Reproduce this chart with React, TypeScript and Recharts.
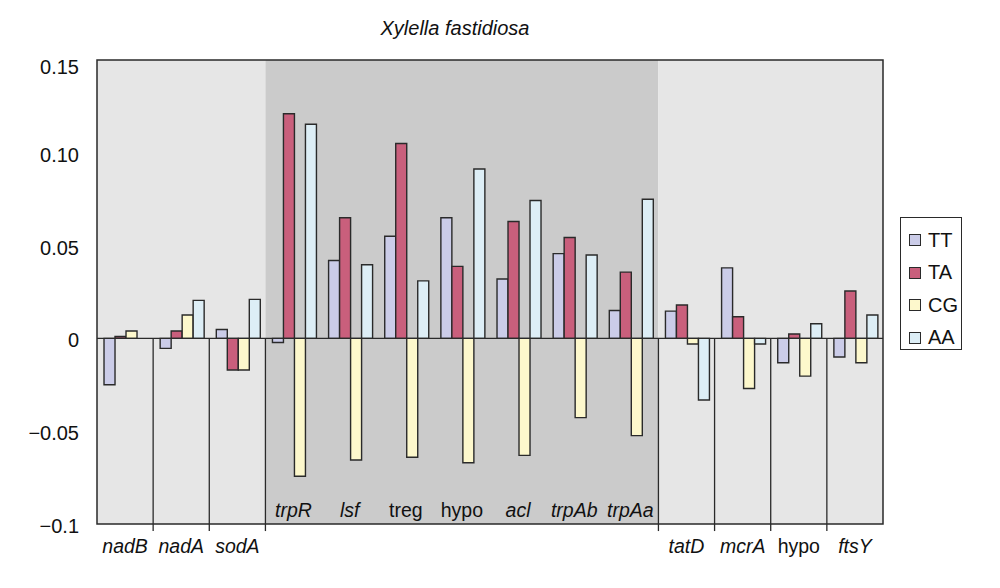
import {
  BarChart,
  Bar,
  XAxis,
  YAxis,
  ReferenceArea,
  ReferenceLine,
} from "recharts";

// gene ids (unique) and printed labels
const geneIds = ["nadB", "nadA", "sodA", "trpR", "lsf", "treg", "hypo1", "acl", "trpAb", "trpAa", "tatD", "mcrA", "hypo2", "ftsY"];
const geneLabels = ["nadB", "nadA", "sodA", "trpR", "lsf", "treg", "hypo", "acl", "trpAb", "trpAa", "tatD", "mcrA", "hypo", "ftsY"];
const geneItalic = [true, true, true, true, true, false, false, true, true, true, true, true, false, true];

const tt = [-0.025, -0.0054, 0.0048, -0.0022, 0.042, 0.055, 0.065, 0.032, 0.0457, 0.015, 0.0147, 0.038, -0.0131, -0.01];
const ta = [0.001, 0.004, -0.017, 0.121, 0.065, 0.105, 0.0388, 0.063, 0.0544, 0.0357, 0.018, 0.0117, 0.0024, 0.0255];
const cg = [0.004, 0.0126, -0.017, -0.0743, -0.0655, -0.064, -0.067, -0.063, -0.0427, -0.0524, -0.003, -0.027, -0.0203, -0.0131];
const aa = [0, 0.0205, 0.021, 0.1154, 0.0397, 0.031, 0.0913, 0.0743, 0.0449, 0.075, -0.0332, -0.003, 0.0079, 0.0126];

const yTicks = [-0.1, -0.05, 0, 0.05, 0.1, 0.15];
const yTickLabels = ["\u22120.1", "\u22120.05", "0", "0.05", "0.10", "0.15"];

// shaded blocks: first and last gene of each
const leftBlock = ["nadB", "sodA"];
const midBlock = ["trpR", "trpAa"];
const rightBlock = ["tatD", "ftsY"];
// genes whose left edge gets a divider below zero
const dividers = ["nadA", "sodA", "trpR", "tatD", "mcrA", "hypo2", "ftsY"];

const series = [
  { key: "TT", values: tt, color: "#cbcce8" },
  { key: "TA", values: ta, color: "#c95f7c" },
  { key: "CG", values: cg, color: "#fdf8cc" },
  { key: "AA", values: aa, color: "#ddeef6" },
];

const data = geneIds.map((id, i) => ({
  id,
  TT: tt[i],
  TA: ta[i],
  CG: cg[i],
  AA: aa[i],
}));

const font = '"Liberation Sans", Arial, sans-serif';
const lineColor = "#2a2a2a";

const GeneTick = (props: any) => {
  const { x, y, payload } = props;
  const i = geneIds.indexOf(payload.value);
  const inside = i >= 3 && i <= 9;
  return (
    <text
      x={x}
      y={inside ? y - 7 : y + 29}
      textAnchor="middle"
      fontFamily={font}
      fontSize={19.5}
      fontStyle={geneItalic[i] ? "italic" : "normal"}
      fill="#111"
    >
      {geneLabels[i]}
    </text>
  );
};

const ValueTick = (props: any) => {
  const { x, y, payload } = props;
  const i = yTicks.indexOf(payload.value);
  return (
    <text x={x} y={y} dy={i === yTicks.length - 1 ? 14 : 9} textAnchor="end" fontFamily={font} fontSize={20} fill="#111">
      {yTickLabels[i]}
    </text>
  );
};

export default function App() {
  return (
    <div style={{ position: "absolute", left: 0, top: 0, width: 1000, height: 588, background: "#fff", fontFamily: font }}>
      <div
        style={{
          position: "absolute",
          left: 355,
          width: 200,
          top: 17,
          textAlign: "center",
          fontStyle: "italic",
          fontSize: 20,
          color: "#111",
        }}
      >
        Xylella fastidiosa
      </div>
      <BarChart
        width={1000}
        height={588}
        data={data}
        margin={{ top: 60, right: 117, bottom: 0, left: 0 }}
        barCategoryGap="12.5%"
        barGap={0}
      >
        <XAxis
          dataKey="id"
          height={64}
          axisLine={false}
          tickLine={false}
          tickSize={0}
          tickMargin={0}
          interval={0}
          tick={<GeneTick />}
        />
        <YAxis
          width={97}
          domain={[-0.1, 0.15]}
          ticks={yTicks}
          axisLine={false}
          tickLine={false}
          tickMargin={12}
          tick={<ValueTick />}
        />
        <ReferenceArea x1={leftBlock[0]} x2={leftBlock[1]} y1={-0.1} y2={0.15} fill="#e6e6e6" fillOpacity={1} stroke="none" />
        <ReferenceArea x1={midBlock[0]} x2={midBlock[1]} y1={-0.1} y2={0.15} fill="#cbcbcb" fillOpacity={1} stroke="none" />
        <ReferenceArea x1={rightBlock[0]} x2={rightBlock[1]} y1={-0.1} y2={0.15} fill="#e6e6e6" fillOpacity={1} stroke="none" />
        <ReferenceArea x1={geneIds[0]} x2={geneIds[geneIds.length - 1]} y1={-0.1} y2={0.15} fill="none" stroke={lineColor} strokeWidth={1.5} />
        {dividers.map((g) => (
          <ReferenceLine
            key={g}
            segment={[
              { x: g, y: 0 },
              { x: g, y: -0.1038 },
            ]}
            position="start"
            ifOverflow="visible"
            stroke={lineColor}
            strokeWidth={1.3}
          />
        ))}
        <ReferenceLine y={0} stroke={lineColor} strokeWidth={1.3} />
        {series.map((s) => (
          <Bar
            key={s.key}
            dataKey={s.key}
            fill={s.color}
            stroke={lineColor}
            strokeWidth={1.4}
            isAnimationActive={false}
          />
        ))}
      </BarChart>
      <div
        style={{
          position: "absolute",
          left: 900,
          top: 217,
          width: 62,
          height: 133,
          border: `1.5px solid ${lineColor}`,
          background: "#fff",
          boxSizing: "border-box",
          paddingTop: 6,
        }}
      >
        {series.map((s) => (
          <div key={s.key} style={{ display: "flex", alignItems: "center", height: 32.5, fontSize: 20, color: "#111" }}>
            <span
              style={{
                display: "inline-block",
                width: 10,
                height: 10,
                marginLeft: 8,
                marginRight: 7,
                background: s.color,
                border: `1.3px solid ${lineColor}`,
              }}
            />
            {s.key}
          </div>
        ))}
      </div>
    </div>
  );
}
